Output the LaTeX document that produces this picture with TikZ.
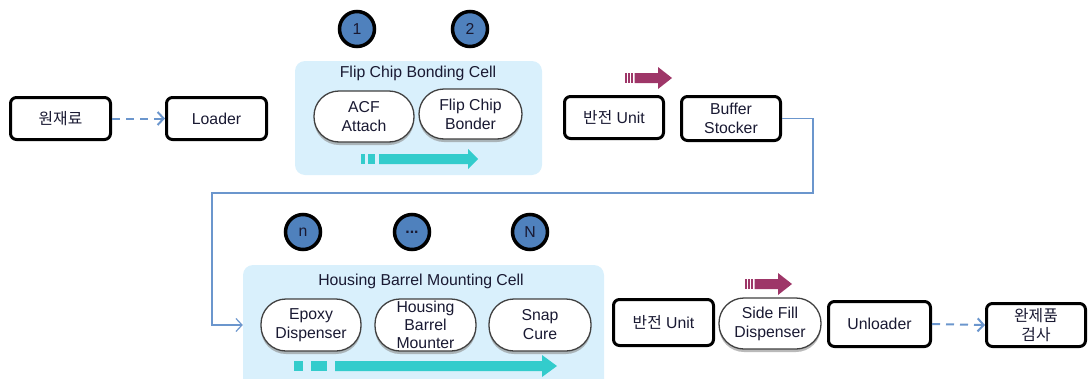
\documentclass[tikz,border=0pt]{standalone}
\usepackage{fontspec}
\setmainfont{Liberation Sans}
\newfontfamily\kr{Noto Sans CJK KR}
\usetikzlibrary{arrows.meta,shadows}

\definecolor{ink}{RGB}{25,25,50}
\definecolor{cellbg}{RGB}{217,240,252}
\definecolor{flowteal}{RGB}{51,204,204}
\definecolor{plum}{RGB}{158,54,104}
\definecolor{stationblue}{RGB}{79,129,189}
\definecolor{linkblue}{RGB}{107,150,205}

\tikzset{
  lbl/.style={text=ink, font=\fontsize{15.8}{19}\selectfont, align=center, inner sep=0pt},
  unitbox/.style={lbl, draw=black, line width=3pt, rounded corners=6pt, fill=white},
  procpill/.style={lbl, draw=black!75, line width=1.3pt, rounded corners=25pt, fill=white,
    drop shadow={shadow xshift=0pt, shadow yshift=-3pt, fill=black!45, opacity=0.6}},
  station/.style={lbl, circle, draw=black, line width=3.5pt, fill=stationblue, minimum size=35pt},
  cell/.style={fill=cellbg, rounded corners=10pt, inner sep=0pt},
  feed/.style={draw=linkblue, line width=2pt, dash pattern=on 8pt off 6pt,
    -{Straight Barb[length=6pt,width=13pt,line width=2pt]}},
  link/.style={draw=linkblue, line width=1.2pt,
    -{Straight Barb[length=6pt,width=13pt,line width=1.2pt]}},
  plumarrow/.pic={
    \fill[plum] (0,-5) rectangle (1.5,5);
    \fill[plum] (3,-5) rectangle (4.5,5);
    \fill[plum] (6,-5) rectangle (8,5);
    \fill[plum] (9.5,-5) -- (33,-5) -- (33,-11) -- (47,0) -- (33,11) -- (33,5) -- (9.5,5) -- cycle;
  },
}

\begin{document}
\begin{tikzpicture}[x=1pt,y=-1pt]
\useasboundingbox (0,0) rectangle (1088,378);

% cell backgrounds
\node[cell, minimum width=247pt, minimum height=114pt] (fcbc) at (418.5,118) {};
\begin{scope}
  \clip (0,0) rectangle (1088,378);
  \node[cell, minimum width=361pt, minimum height=125pt] (hbmc) at (423.5,327.5) {};
\end{scope}
\node[lbl] (fcbtitle) at (418,73) {Flip Chip Bonding Cell};
\node[lbl] (hbmtitle) at (421,281) {Housing Barrel Mounting Cell};

% station markers
\node[station] (s1) at (357,29) {1};
\node[station] (s2) at (470,29) {2};
\node[station] (sn) at (303,232) {n};
\node[station] (sdots) at (412,232) {\textbf{...}};
\node[station] (sN) at (530,232) {N};

% first line
\node[unitbox, minimum width=100pt, minimum height=42pt] (raw) at (60.5,118.5) {\kr 원재료};
\node[unitbox, minimum width=100pt, minimum height=42pt] (loader) at (216.5,118.5) {Loader};
\node[procpill, minimum width=100pt, minimum height=51pt] (acf) at (364,116.5) {ACF\\Attach};
\node[procpill, minimum width=103pt, minimum height=50pt] (fcb) at (470.5,114) {Flip Chip\\Bonder};
\node[unitbox, minimum width=99pt, minimum height=42pt] (flip1) at (614,117.5) {{\kr 반전} Unit};
\node[unitbox, minimum width=99pt, minimum height=44pt] (buffer) at (731,118.5) {Buffer\\Stocker};

% second line
\node[procpill, minimum width=100pt, minimum height=52pt] (epoxy) at (311,325) {Epoxy\\Dispenser};
\node[procpill, minimum width=101pt, minimum height=52pt, font=\fontsize{15.8}{18}\selectfont] (hbm) at (425.5,325) {Housing\\Barrel\\Mounter};
\node[procpill, minimum width=102pt, minimum height=52pt] (snap) at (540,325) {Snap\\Cure};
\node[unitbox, minimum width=100pt, minimum height=46pt] (flip2) at (663.5,322.5) {{\kr 반전} Unit};
\node[procpill, minimum width=102pt, minimum height=51pt] (sidefill) at (770,323.5) {Side Fill\\Dispenser};
\node[unitbox, minimum width=102pt, minimum height=45pt] (unloader) at (879.5,324) {Unloader};
\node[unitbox, minimum width=99pt, minimum height=43pt] (final) at (1036,325) {\kr 완제품\\\kr 검사};

% flow direction inside the cells
\fill[flowteal] (361,154) rectangle (365,164);
\fill[flowteal] (368,154) rectangle (375,164);
\fill[flowteal] (379,154) -- (468,154) -- (468,149) -- (478,159) -- (468,169) -- (468,164) -- (379,164) -- cycle;
\fill[flowteal] (294,361) rectangle (303,371);
\fill[flowteal] (311,361) rectangle (327,371);
\fill[flowteal] (335,361) -- (542,361) -- (542,355) -- (557,366) -- (542,377) -- (542,371) -- (335,371) -- cycle;

% turn-over direction marks
\pic at (625,78) {plumarrow};
\pic at (745,284) {plumarrow};

% connectors
\draw[feed] (raw.east) -- (loader.west);
\draw[feed] (unloader.east) -- (final.west);
\coordinate (turnA) at (813,193);
\coordinate (turnB) at (212,193);
\draw[link] (buffer.east) -| (turnA) -- (turnB) |- (hbmc.west |- epoxy.west);
\end{tikzpicture}
\end{document}
